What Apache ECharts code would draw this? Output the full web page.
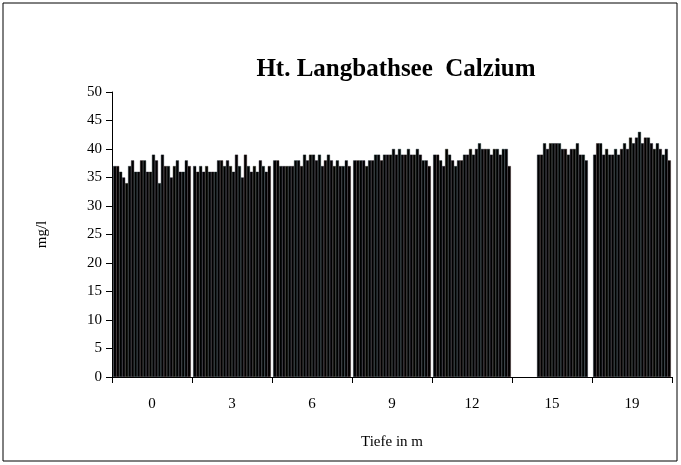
<!DOCTYPE html>
<html><head><meta charset="utf-8">
<script src="https://cdn.jsdelivr.net/npm/echarts@6/dist/echarts.min.js"></script>
<style>body{margin:0}#c{width:681px;height:465px}</style></head>
<body><div id="c"></div>
<script>
const categories = ['0','3','6','9','12','15','19'];
const d0  = [37,37,36,35,34,37,38,36,36,38,38,36,36,39,38,34,39,37,37,35,37,38,36,36,38,37];
const d3  = [37,36,37,36,37,36,36,36,38,38,37,38,37,36,39,37,35,39,37,36,37,36,38,37,36,37];
const d6  = [38,38,37,37,37,37,37,38,38,37,39,38,39,39,38,39,37,38,39,38,37,38,37,37,38,37];
const d9  = [38,38,38,38,37,38,38,39,39,38,39,39,39,40,39,40,39,39,40,39,39,40,39,38,38,37];
const d12 = [39,39,38,37,40,39,38,37,38,38,39,39,40,39,40,41,40,40,40,39,40,40,39,40,40,37];
const d15 = [null,null,null,null,null,null,null,null,39,39,41,40,41,41,41,41,40,40,39,40,40,41,39,39,38,null];
const d19 = [39,41,41,39,40,39,39,40,39,40,41,40,42,41,42,43,41,42,42,41,40,41,40,39,40,38];
const tableau = [d0,d3,d6,d9,d12,d15,d19];
const edge = ['#101828','#281010','#102424','#1c1028','#242410','#0c1c24','#1c0c1c','#103030'];
const series = d0.map((_, i) => ({
  type:'bar', data: tableau.map(a => a[i]), barGap:'0%', barCategoryGap:'3%',
  itemStyle:{color:'#000', borderColor:edge[i%edge.length], borderWidth:0.4},
  animation:false
}));
const chart = echarts.init(document.getElementById('c'));
chart.setOption({
  graphic:[{type:'rect',shape:{x:3,y:3,width:674,height:458},style:{fill:'none',stroke:'#000',lineWidth:1}}],
  title:{text:'Ht. Langbathsee  Calzium',left:391,top:52,textAlign:'center',
    textStyle:{fontFamily:'Liberation Serif',fontSize:25,fontWeight:'bold',color:'#000'}},
  grid:{left:112,right:9,top:92,bottom:88},
  xAxis:{type:'category',data:categories,name:'Tiefe in m',nameLocation:'middle',nameGap:58,
    nameTextStyle:{fontFamily:'Liberation Serif',fontSize:15,color:'#000'},
    axisLine:{lineStyle:{color:'#000'}},axisTick:{show:true,length:6,lineStyle:{color:'#000'}},
    axisLabel:{fontFamily:'Liberation Serif',fontSize:15,color:'#000',margin:20}},
  yAxis:{type:'value',min:0,max:50,interval:5,name:'mg/l',nameLocation:'middle',nameGap:62,
    nameTextStyle:{fontFamily:'Liberation Serif',fontSize:15,color:'#000'},
    axisLine:{show:true,lineStyle:{color:'#000'}},axisTick:{show:true,length:6,lineStyle:{color:'#000'}},
    splitLine:{show:false},
    axisLabel:{fontFamily:'Liberation Serif',fontSize:15,color:'#000',margin:10}},
  series
});
</script></body></html>
